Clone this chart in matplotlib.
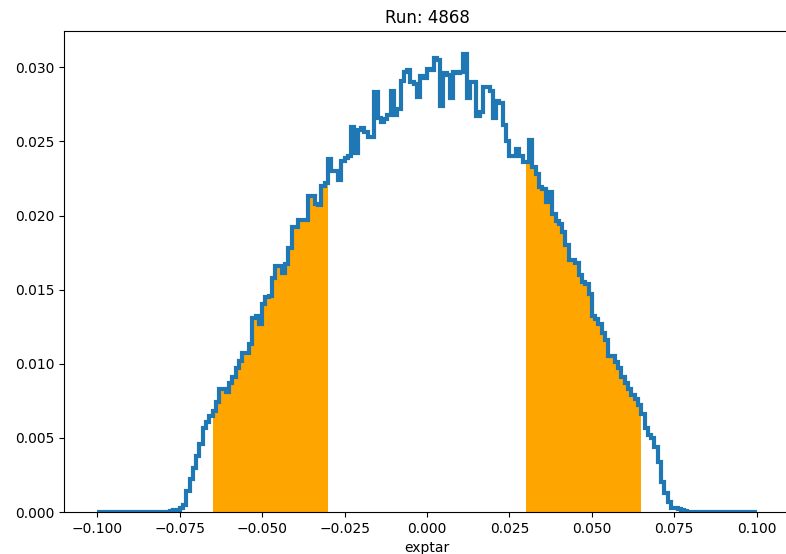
import numpy as np
import matplotlib
matplotlib.use("Agg")
import matplotlib.pyplot as plt

# histogram of exptar, 200 bins of width 0.001 between -0.1 and 0.1
edges = np.round(np.linspace(-0.1, 0.1, 201), 4)

tail_left = [0.0] * 22  # -0.100 .. -0.079
left = [
    0.00008, 0.00012, 0.00015, 0.0003, 0.0005, 0.0014, 0.0022, 0.0030, 0.0038, 0.0046,
    0.0057, 0.0061, 0.0065, 0.0068, 0.0074, 0.0083, 0.0083, 0.0081, 0.0087, 0.0091,
    0.0097, 0.0102, 0.0107, 0.0107, 0.0113, 0.0131, 0.0132, 0.0127, 0.0140, 0.0145,
    0.0146, 0.0158, 0.0166, 0.0166, 0.0161, 0.0167, 0.0178, 0.0192, 0.0192, 0.0197,
    0.0197, 0.0197, 0.0213, 0.0213, 0.0208, 0.0207, 0.0220, 0.0222, 0.0238, 0.0230,
    0.0230, 0.0224, 0.0237, 0.0239, 0.0240, 0.0260, 0.0242, 0.0258, 0.0259, 0.0256,
    0.0253, 0.0253, 0.0283, 0.0266, 0.0263, 0.0265, 0.0268, 0.0284, 0.0268, 0.0272,
    0.0291, 0.0297, 0.0298, 0.0290, 0.0289, 0.0280, 0.0294, 0.0293,
]  # -0.078 .. -0.001
right = [
    0.0299, 0.0298, 0.0306, 0.0305, 0.0274, 0.0296, 0.0295, 0.0279, 0.0297, 0.0296,
    0.0297, 0.0309, 0.0279, 0.0290, 0.0290, 0.0267, 0.0270, 0.0287, 0.0287, 0.0284,
    0.0266, 0.0277, 0.0276, 0.0261, 0.0250, 0.0240, 0.0240, 0.0245, 0.0240, 0.0236,
    0.0236, 0.0251, 0.0233, 0.0228, 0.0219, 0.0218, 0.0209, 0.0216, 0.0201, 0.0196,
    0.0194, 0.0189, 0.0180, 0.0170, 0.0170, 0.0168, 0.0160, 0.0155, 0.0154, 0.0147,
    0.0132, 0.0130, 0.0127, 0.0121, 0.0116, 0.0105, 0.0105, 0.0101, 0.0097, 0.0091,
    0.0087, 0.0083, 0.0079, 0.0076, 0.0072, 0.0066, 0.0057, 0.0052, 0.0050, 0.0044,
    0.0034, 0.0020, 0.0013, 0.0007, 0.0003, 0.00025, 0.0002, 0.00015, 0.0001,
]  # 0.000 .. 0.078
tail_right = [0.0] * 21  # 0.079 .. 0.099

values = np.array(tail_left + left + right + tail_right)
centers = 0.5 * (edges[:-1] + edges[1:])

# selected window shown in orange
cut_lo, cut_hi = 0.030, 0.065
sel = (np.abs(centers) > cut_lo) & (np.abs(centers) < cut_hi)

fig = plt.figure(figsize=(7.86, 5.54), dpi=100)
ax = fig.add_axes([0.0818, 0.0758, 0.9228, 0.8682])

ax.hist(centers, bins=edges, weights=values, histtype='step', linewidth=3, color='C0')
ax.hist(centers[sel], bins=edges, weights=values[sel], histtype='stepfilled', color='orange')

ax.set_title('Run: 4868')
ax.set_xlabel('exptar')

fig.savefig('out.png', dpi=100)
